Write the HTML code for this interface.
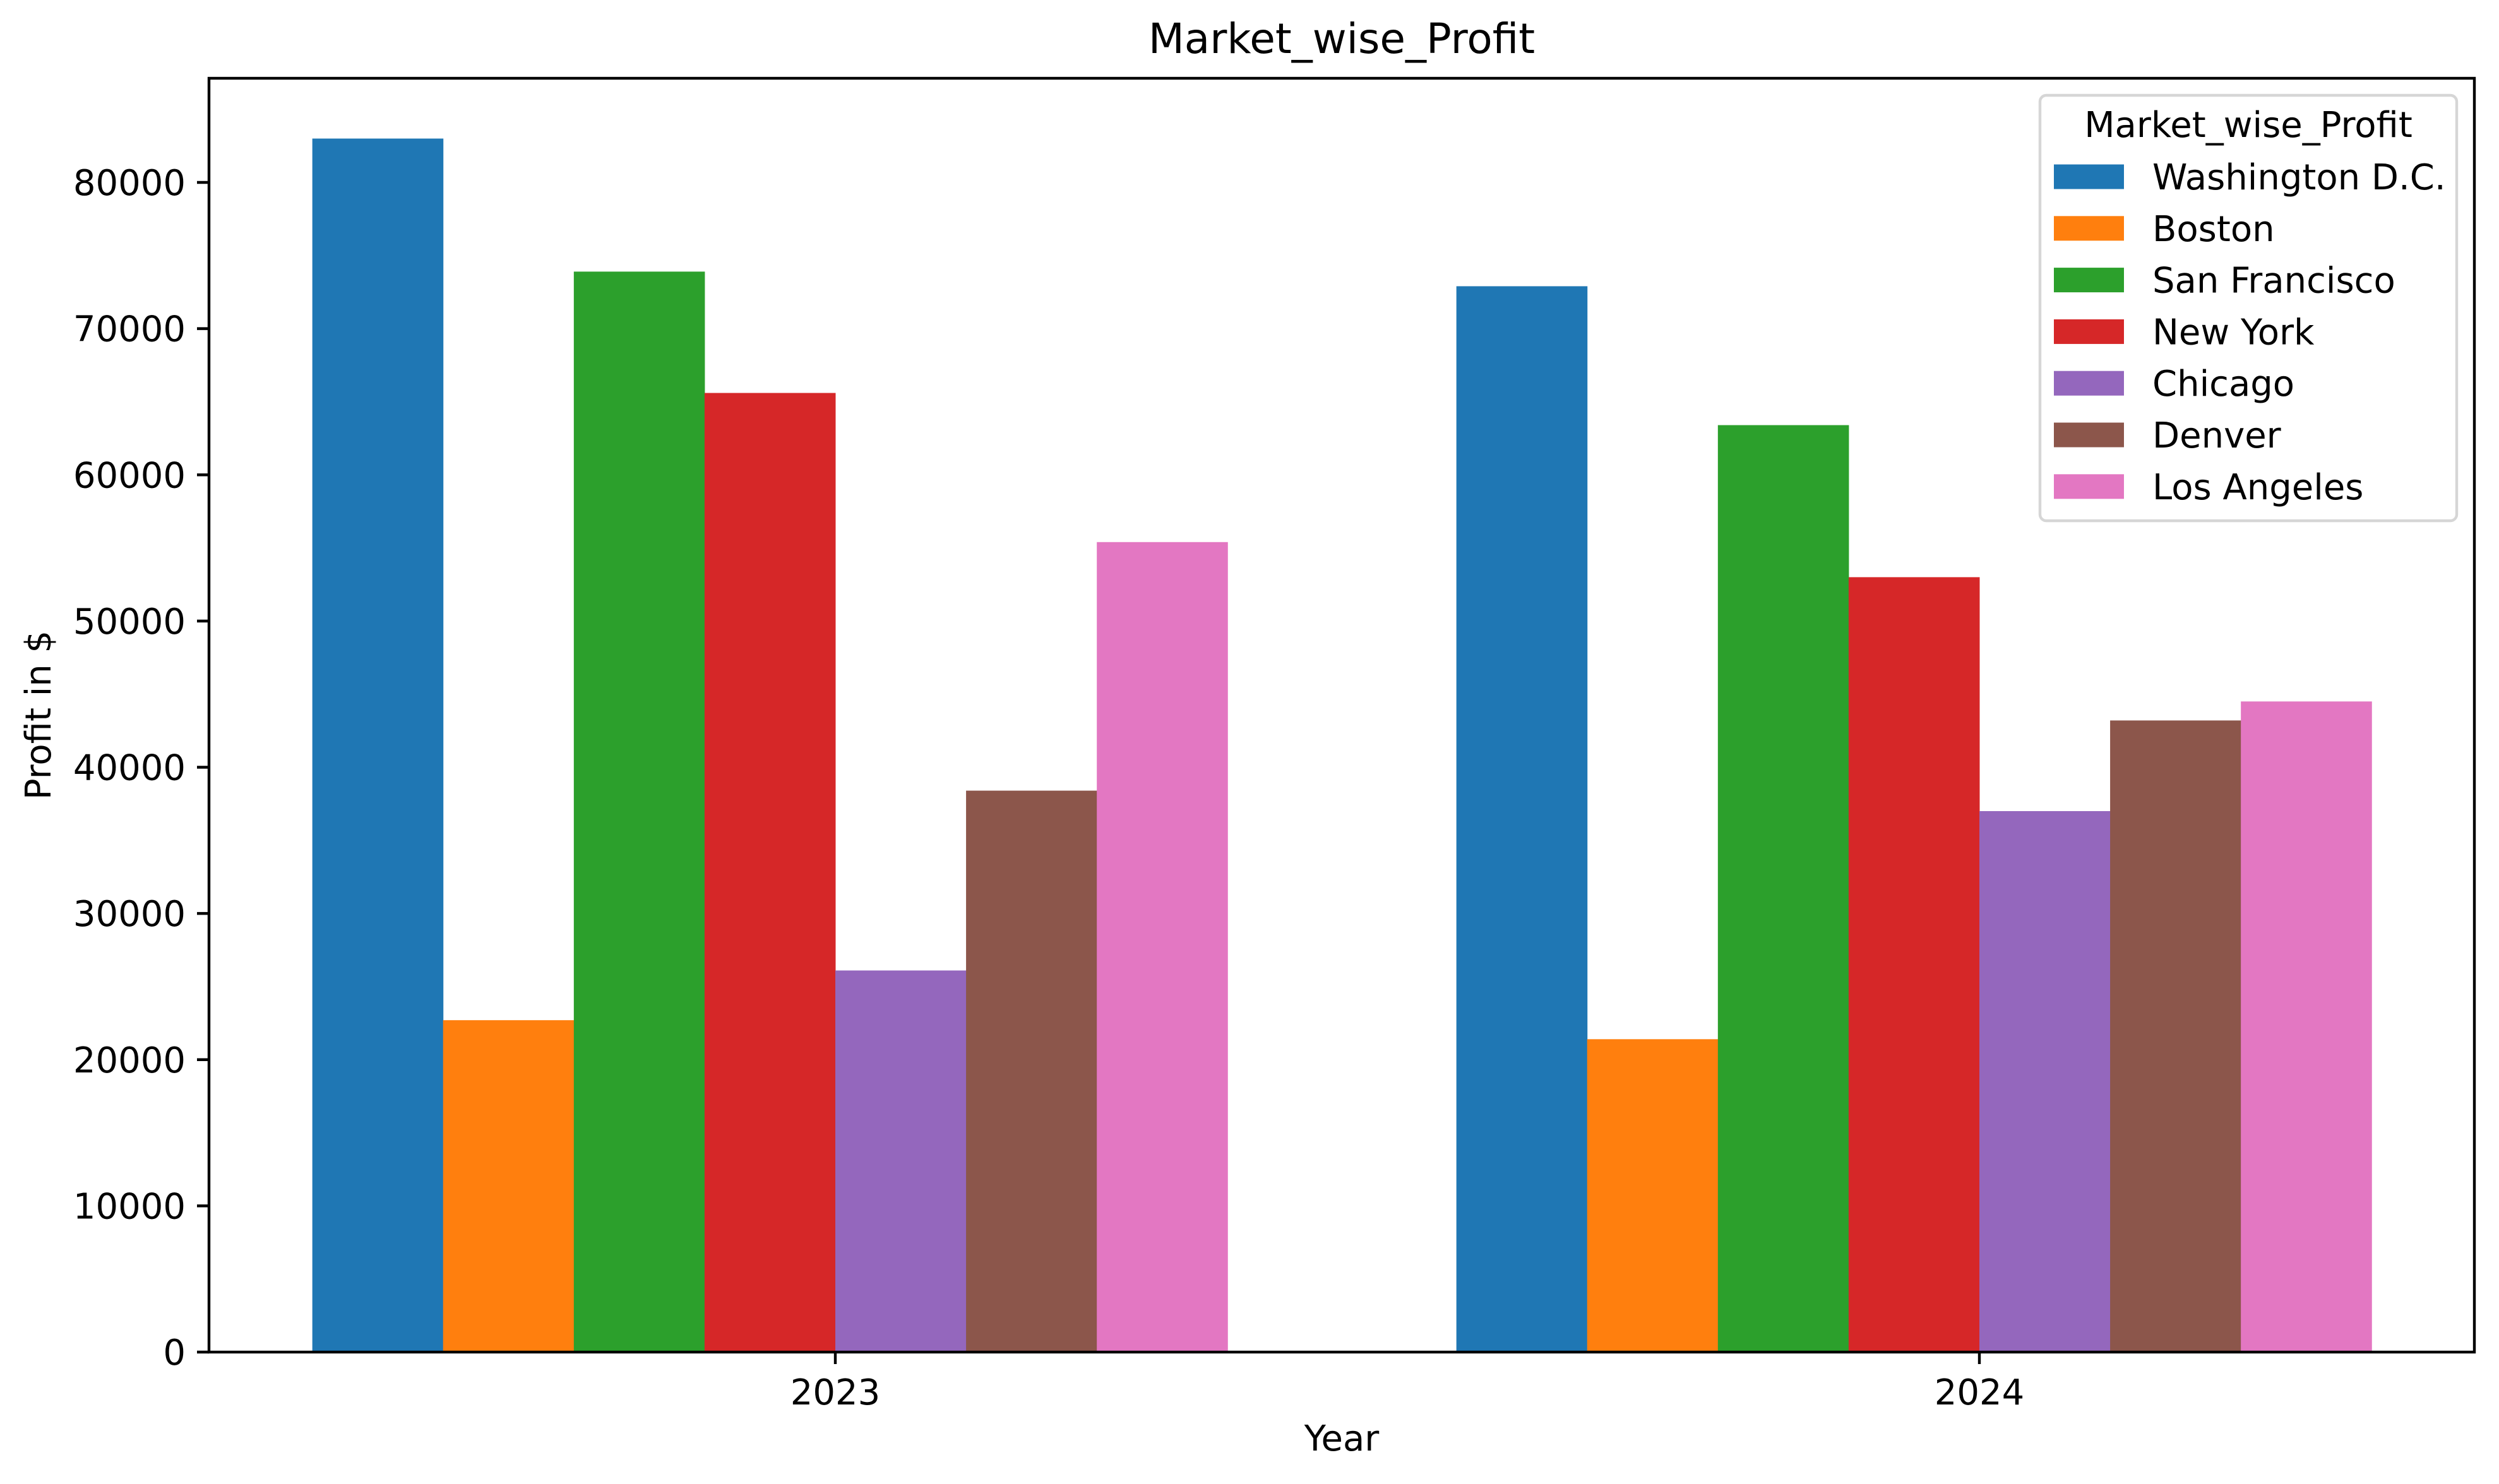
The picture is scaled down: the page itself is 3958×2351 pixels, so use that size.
<!DOCTYPE html>
<html><head><meta charset="utf-8"><style>
html,body{margin:0;padding:0;background:#fff;}
svg{display:block;font-family:"DejaVu Sans","Liberation Sans",sans-serif;}
</style></head><body>
<svg id="chart" width="3958" height="2351" viewBox="0 0 3958 2351" xmlns="http://www.w3.org/2000/svg">
<rect width="3958" height="2351" fill="#fff"/>
<text x="2125" y="84" font-size="66" text-anchor="middle">Market_wise_Profit</text>
<g id="bars"></g>
<g id="yticks"></g>
<g id="xticks"></g>
<rect x="331" y="124" width="3588" height="2018" fill="none" stroke="#000" stroke-width="4.4"/>
<text x="0" y="0" font-size="56" text-anchor="middle" transform="translate(80,1133) rotate(-90)">Profit in $</text>
<text x="2125" y="2298" font-size="56" text-anchor="middle">Year</text>
<g id="legend">
<rect x="3231" y="151" width="660" height="674" rx="10" fill="#fff" fill-opacity="0.8" stroke="#d6d6d6" stroke-width="4.4"/>
<text x="3561" y="217" font-size="56" text-anchor="middle">Market_wise_Profit</text>
</g>
</svg>
<script>
const categories = ["2023", "2024"];
const seriesNames = ["Washington D.C.", "Boston", "San Francisco", "New York", "Chicago", "Denver", "Los Angeles"];
const washington = [83000, 72900];
const boston = [22700, 21400];
const sanFrancisco = [73900, 63400];
const newYork = [65600, 53000];
const chicago = [26100, 37000];
const denver = [38400, 43200];
const losAngeles = [55400, 44500];
const yTicks = [0, 10000, 20000, 30000, 40000, 50000, 60000, 70000, 80000];
const colors = ["#1f77b4", "#ff7f0e", "#2ca02c", "#d62728", "#9467bd", "#8c564b", "#e377c2"];

const series = [washington, boston, sanFrancisco, newYork, chicago, denver, losAngeles];
const NS = "http://www.w3.org/2000/svg";
const y0 = 2142, pxPerUnit = 1853 / 80000;
function yScale(v) { return y0 - v * pxPerUnit; }
const catStep = 1812;
function xScale(i) { return 1323 + i * catStep; }
const barW = catStep * 0.8 / series.length;

const bars = document.getElementById("bars");
series.forEach((vals, s) => {
  vals.forEach((v, i) => {
    const r = document.createElementNS(NS, "rect");
    
    
    const x = xScale(i) + (s - 4) * barW;
    r.setAttribute("x", x);
    r.setAttribute("width", barW + 0.5);
    r.setAttribute("y", yScale(v));
    r.setAttribute("height", y0 - yScale(v));
    r.setAttribute("fill", colors[s]);
    bars.appendChild(r);
  });
});

const yt = document.getElementById("yticks");
yTicks.forEach(t => {
  const y = yScale(t);
  const l = document.createElementNS(NS, "line");
  
  
  l.setAttribute("x1", 312); l.setAttribute("x2", 331);
  l.setAttribute("y1", y); l.setAttribute("y2", y);
  l.setAttribute("stroke", "#000"); l.setAttribute("stroke-width", 4.4);
  yt.appendChild(l);
  const tx = document.createElementNS(NS, "text");
  
  
  tx.setAttribute("x", 294); tx.setAttribute("y", y + 20);
  tx.setAttribute("font-size", 56); tx.setAttribute("text-anchor", "end");
  tx.textContent = t;
  yt.appendChild(tx);
});

const xt = document.getElementById("xticks");
categories.forEach((c, i) => {
  const x = xScale(i);
  const l = document.createElementNS(NS, "line");
  
  
  l.setAttribute("x1", x); l.setAttribute("x2", x);
  l.setAttribute("y1", 2142); l.setAttribute("y2", 2161);
  l.setAttribute("stroke", "#000"); l.setAttribute("stroke-width", 4.4);
  xt.appendChild(l);
  const tx = document.createElementNS(NS, "text");
  
  
  tx.setAttribute("x", x); tx.setAttribute("y", 2225);
  tx.setAttribute("font-size", 56); tx.setAttribute("text-anchor", "middle");
  tx.textContent = c;
  xt.appendChild(tx);
});

const lg = document.getElementById("legend");
seriesNames.forEach((n, s) => {
  const cy = 280 + s * 81.8;
  const r = document.createElementNS(NS, "rect");
  
  
  r.setAttribute("x", 3253); r.setAttribute("y", cy - 19.5);
  r.setAttribute("width", 111); r.setAttribute("height", 39);
  r.setAttribute("fill", colors[s]);
  lg.appendChild(r);
  const tx = document.createElementNS(NS, "text");
  
  
  tx.setAttribute("x", 3409); tx.setAttribute("y", cy + 20);
  tx.setAttribute("font-size", 56);
  tx.textContent = n;
  lg.appendChild(tx);
});
</script>
</body></html>
